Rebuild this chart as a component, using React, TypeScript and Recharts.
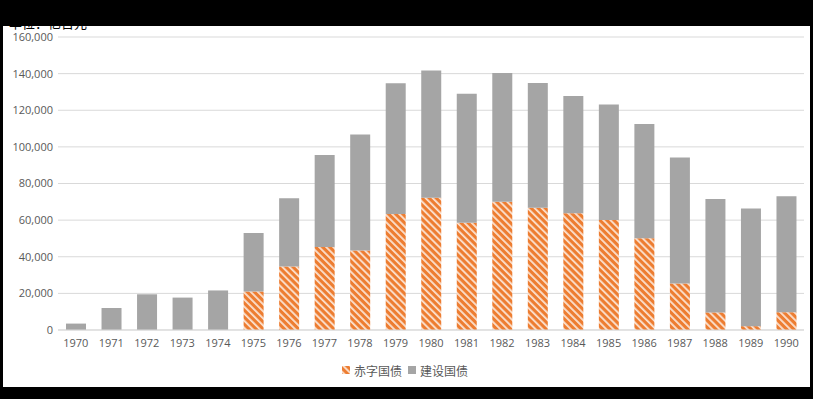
import { Bar, BarChart, CartesianGrid, Legend, XAxis, YAxis } from "recharts";

const years = ["1970", "1971", "1972", "1973", "1974", "1975", "1976", "1977", "1978", "1979", "1980", "1981", "1982", "1983", "1984", "1985", "1986", "1987", "1988", "1989", "1990"];
// 赤字国债 (deficit bonds), 亿日元
const deficit = [0, 0, 0, 0, 0, 21000, 34700, 45300, 43400, 63400, 72200, 58600, 70100, 66800, 63700, 60100, 50100, 25400, 9600, 2100, 9700];
// 建设国债 (construction bonds), 亿日元
const construction = [3500, 12000, 19500, 17700, 21600, 32000, 37300, 50300, 63300, 71300, 69500, 70400, 70300, 68100, 64100, 63000, 62400, 68800, 61900, 64300, 63400];
const yTicks = [0, 20000, 40000, 60000, 80000, 100000, 120000, 140000, 160000];
const legendOrder = ["deficit", "construction"];

const data = years.map((year, i) => ({ year, deficit: deficit[i], construction: construction[i] }));

const font = "'Open Sans', 'Noto Sans CJK SC', sans-serif";
const cjk = "'Noto Sans CJK SC', sans-serif";
const tick = { fill: "#595959", fontSize: 11, fontFamily: font };

function LegendContent({ payload }: any) {
  const items = [...(payload || [])].sort((a: any, b: any) => legendOrder.indexOf(a.dataKey) - legendOrder.indexOf(b.dataKey));
  return (
    <div style={{ display: "flex", justifyContent: "center", alignItems: "center", height: 20, paddingLeft: 12, fontSize: 12, color: "#595959", fontFamily: cjk }}>
      {items.map((p: any) => (
        <span key={p.value} style={{ display: "flex", alignItems: "center", marginRight: 6 }}>
          <svg width={8} height={8} style={{ marginRight: 4 }}>
            <rect width={8} height={8} fill={p.dataKey === "deficit" ? "url(#hatch)" : "#A5A5A5"} />
          </svg>
          {p.value}
        </span>
      ))}
    </div>
  );
}

export default function App() {
  return (
    <div style={{ position: "absolute", left: 0, top: 0, width: 813, height: 399, background: "#000", overflow: "hidden" }}>
      <div style={{ position: "absolute", left: 3, top: 26, width: 807, height: 361, background: "#fff" }} />
      <div style={{ position: "absolute", left: 9, top: 18, fontSize: 13, lineHeight: "10px", color: "#000", fontFamily: cjk, zIndex: 2 }}>单位：亿日元</div>
      <BarChart width={813} height={399} data={data} style={{ position: "absolute", left: 0, top: 0 }} margin={{ top: 37, right: 9, left: 0, bottom: 19 }}>
        <defs>
          <pattern id="hatch" patternUnits="userSpaceOnUse" width={5} height={5} patternTransform="rotate(-45)">
            <rect width={5} height={5} fill="#ED7D31" />
            <rect width={1.8} height={5} fill="#FBE3D3" />
          </pattern>
        </defs>
        <CartesianGrid vertical={false} stroke="#D9D9D9" />
        <XAxis dataKey="year" tick={tick} axisLine={{ stroke: "#D9D9D9" }} tickLine={false} tickSize={6} tickMargin={3} height={30} interval={0} />
        <YAxis ticks={yTicks} domain={[0, 160000]} tick={tick} axisLine={false} tickLine={false} tickSize={3} tickMargin={2} width={58} tickFormatter={(v) => Number(v).toLocaleString("en-US")} />
        <Legend verticalAlign="bottom" content={<LegendContent />} />
        <Bar dataKey="deficit" name="赤字国债" stackId="a" fill="url(#hatch)" barSize={20} isAnimationActive={false} />
        <Bar dataKey="construction" name="建设国债" stackId="a" fill="#A5A5A5" barSize={20} isAnimationActive={false} />
      </BarChart>
    </div>
  );
}
